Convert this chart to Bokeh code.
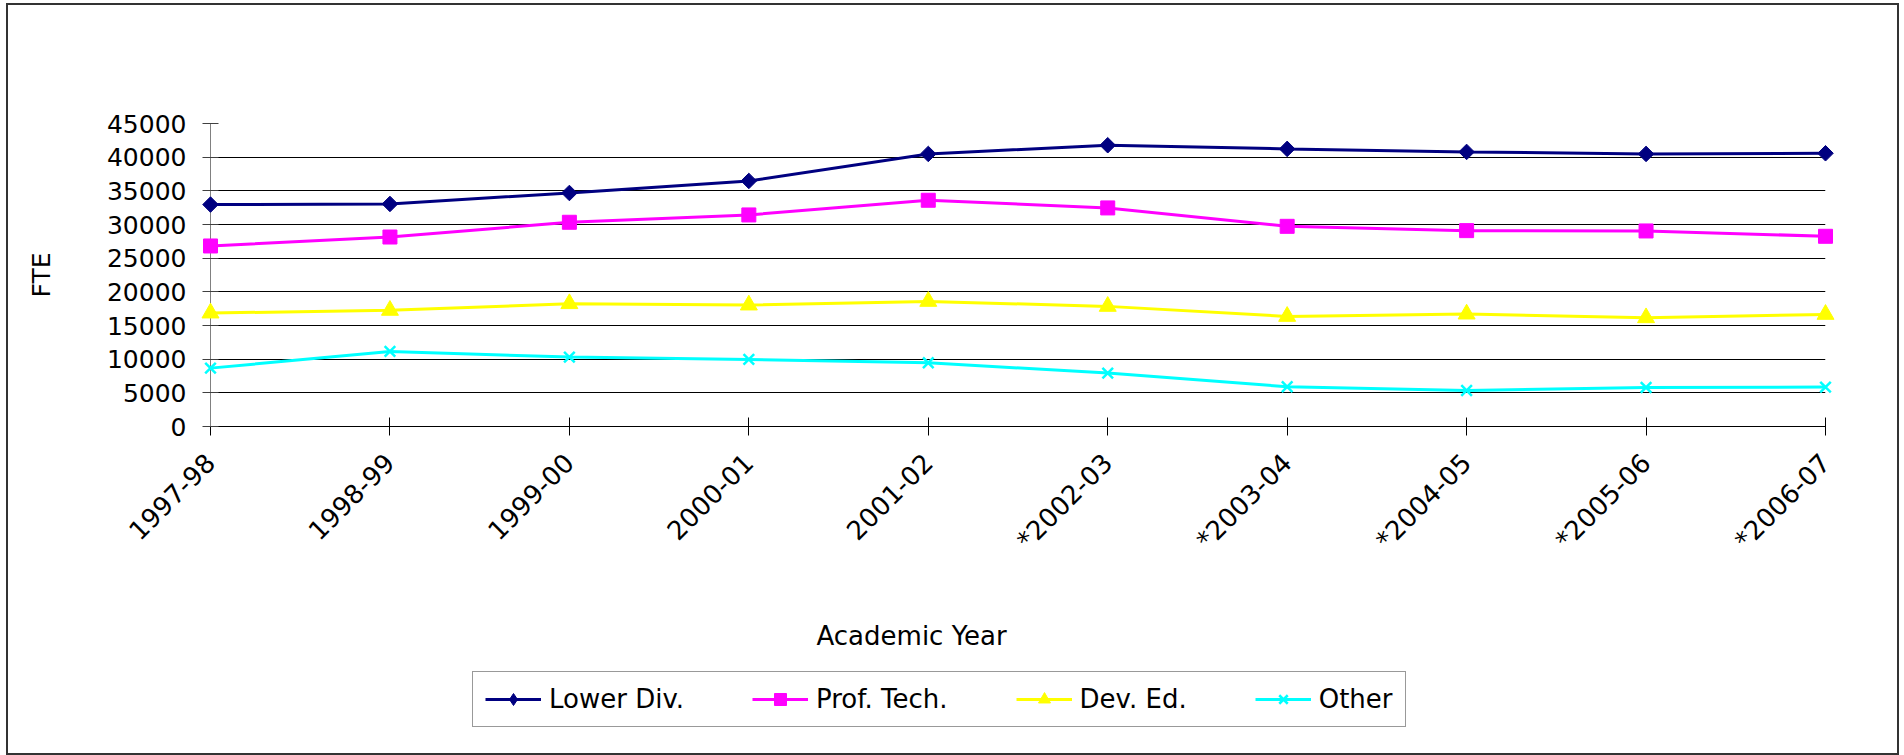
import math
from bokeh.plotting import figure
from bokeh.layouts import column
from bokeh.models import (Range1d, FixedTicker, Legend, LegendItem, Label)
from bokeh.embed import file_html
from bokeh.resources import INLINE

# ---- data ----
years = ["1997-98", "1998-99", "1999-00", "2000-01", "2001-02",
         "*2002-03", "*2003-04", "*2004-05", "*2005-06", "*2006-07"]
lower_div = [32960, 33050, 34680, 36470, 40480, 41770, 41230, 40780, 40480, 40580]
prof_tech = [26810, 28140, 30330, 31420, 33600, 32460, 29730, 29090, 29040, 28250]
dev_ed = [16850, 17250, 18240, 18040, 18580, 17840, 16350, 16700, 16150, 16650]
other = [8670, 11150, 10310, 9960, 9460, 7930, 5900, 5350, 5800, 5850]
y_ticks = [0, 5000, 10000, 15000, 20000, 25000, 30000, 35000, 40000, 45000]
series_names = ["Lower Div.", "Prof. Tech.", "Dev. Ed.", "Other"]
x_title = "Academic Year"
y_title = "FTE"

FONT = "DejaVu Sans"
xs = list(range(len(years)))

W = 1889
BL, BR = 202, 72          # side borders (plot area 210..1825 on the page)
H1, H2 = 571, 177
BB = H1 - 421             # bottom border of the main chart -> plot bottom at y=426

# ---- main chart ----
p = figure(width=W, height=H1, output_backend="svg", toolbar_location=None,
           x_range=Range1d(0, len(years) - 1), y_range=Range1d(y_ticks[0], y_ticks[-1]),
           min_border_left=BL, min_border_right=BR, min_border_top=118,
           min_border_bottom=BB)
p.outline_line_color = None
p.background_fill_color = "white"
p.border_fill_color = "white"

p.xaxis.ticker = FixedTicker(ticks=xs)
p.xaxis.major_label_overrides = {i: t for i, t in enumerate(years)}
p.xaxis.major_label_orientation = math.pi / 4
p.xaxis.major_label_text_font = FONT
p.xaxis.major_label_text_font_size = "26px"
p.xaxis.major_label_text_color = "black"
p.xaxis.major_label_standoff = 23
p.xaxis.major_tick_in = 9
p.xaxis.major_tick_out = 9
p.xaxis.minor_tick_line_color = None
p.xaxis.axis_line_color = "black"
p.xaxis.major_tick_line_color = "black"

p.yaxis.ticker = FixedTicker(ticks=y_ticks)
p.yaxis.major_label_overrides = {v: str(v) for v in y_ticks}
p.yaxis.major_label_text_font = FONT
p.yaxis.major_label_text_font_size = "25px"
p.yaxis.major_label_text_color = "black"
p.yaxis.major_label_standoff = 16
p.yaxis.major_tick_in = 8
p.yaxis.major_tick_out = 8
p.yaxis.minor_tick_line_color = None
p.yaxis.axis_line_color = "#808080"
p.yaxis.major_tick_line_color = "#404040"
p.yaxis.axis_label = y_title
p.yaxis.axis_label_text_font = FONT
p.yaxis.axis_label_text_font_size = "25px"
p.yaxis.axis_label_text_font_style = "normal"
p.yaxis.axis_label_text_color = "black"
p.yaxis.axis_label_standoff = 48

p.xgrid.grid_line_color = None
p.ygrid.grid_line_color = "black"
p.ygrid.grid_line_width = 1

colors = ["#000080", "#FF00FF", "#FFFF00", "#00FFFF"]
values = [lower_div, prof_tech, dev_ed, other]
markers = ["square", "square", "triangle", "x"]
legend_markers = ["diamond", "square", "triangle", "x"]
sizes = [11, 14, 17, 15]
angles = [math.pi / 4, 0, 0, 0]
for vals, c, m, s, a in zip(values, colors, markers, sizes, angles):
    p.line(xs, vals, line_color=c, line_width=3, level="overlay")
    p.scatter(xs, vals, marker=m, size=s, angle=a, fill_color=c, line_color=c,
              line_width=2.5 if m == "x" else 1, level="overlay")

# ---- lower strip: x-axis title and legend (pixel-based ranges) ----
q = figure(width=W, height=H2, output_backend="svg", toolbar_location=None,
           x_axis_location=None, y_axis_location=None,
           x_range=Range1d(0, W - BL - BR), y_range=Range1d(0, H2),
           min_border_left=BL, min_border_right=BR,
           min_border_top=0, min_border_bottom=0)
q.outline_line_color = None
q.grid.grid_line_color = None
q.background_fill_color = "white"
q.border_fill_color = "white"

q.add_layout(Label(x=606, y=118, text=x_title, text_align="left",
                   text_baseline="middle", text_font=FONT, text_font_size="26px",
                   text_color="black"))

# legend swatches: same series, lying outside this strip's visible range
items = []
for name, vals, c, m in zip(series_names, values, colors, legend_markers):
    l1 = q.line(xs, vals, line_color=c, line_width=3)
    l2 = q.scatter(xs, vals, marker=m, fill_color=c, line_color=c,
                   line_width=2.5 if m == "x" else 1)
    items.append(LegendItem(label=name, renderers=[l1, l2]))

legend = Legend(items=items, orientation="horizontal", location=(262, 26),
                label_text_font=FONT, label_text_font_size="26px", label_text_color="black",
                glyph_width=56, glyph_height=30, label_standoff=8, spacing=68,
                padding=12, border_line_color="#333333", border_line_width=1,
                background_fill_color="white", background_fill_alpha=1)
q.add_layout(legend, "center")

layout = column(p, q, spacing=0,
                styles={"border": "2px solid #333333", "margin-left": "6px",
                        "margin-top": "3px", "background-color": "white"})

open("out.html", "w").write(file_html(layout, INLINE))
